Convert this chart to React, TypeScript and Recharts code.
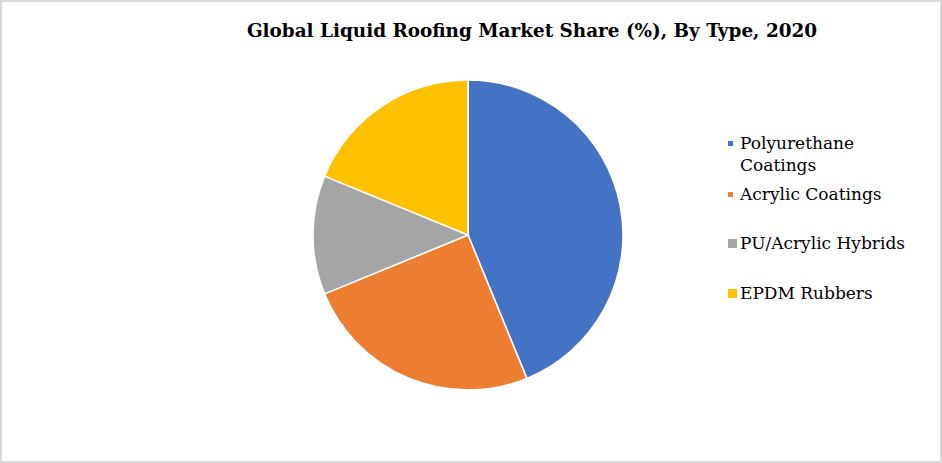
import { PieChart, Pie, Cell, Legend } from "recharts";

const TYPES = ["Polyurethane Coatings", "Acrylic Coatings", "PU/Acrylic Hybrids", "EPDM Rubbers"];
const SHARES = [43.8, 25.0, 12.4, 18.8];
const COLORS = ["#4472c4", "#ed7d31", "#a5a5a5", "#ffc000"];
const TITLE = "Global Liquid Roofing Market Share (%), By Type, 2020";

const data = TYPES.map((name, i) => ({ name, value: SHARES[i] }));

// legend spacing copied from the reference layout
const ITEM_HEIGHTS = [51, 49, 50, 30];
const SWATCH = [5, 5, 9, 9];

function LegendBox() {
  return (
    <div style={{ fontFamily: "'DejaVu Serif', serif", fontSize: 17, color: "#000" }}>
      {TYPES.map((t, i) => (
        <div key={t} style={{ display: "flex", alignItems: "flex-start", height: ITEM_HEIGHTS[i] }}>
          <div style={{ width: 12, height: 22, display: "flex", alignItems: "center" }}>
            <span style={{ display: "inline-block", width: SWATCH[i], height: SWATCH[i], background: COLORS[i] }} />
          </div>
          <div style={{ width: 175, lineHeight: "22px" }}>{t}</div>
        </div>
      ))}
    </div>
  );
}

export default function App() {
  return (
    <div style={{ position: "absolute", left: 0, top: 0, width: 942, height: 463, background: "#fff" }}>
      <div
        style={{
          position: "absolute", inset: 0, boxSizing: "border-box",
          border: "2px solid #d9d9d9", pointerEvents: "none", zIndex: 2,
        }}
      />
      <div
        style={{
          position: "absolute", left: 122, width: 820, top: 18, textAlign: "center",
          fontFamily: "'DejaVu Serif', serif", fontWeight: "bold", fontSize: 18.4, lineHeight: "26px",
        }}
      >
        {TITLE}
      </div>
      <PieChart width={942} height={463} margin={{ top: 0, right: 0, bottom: 0, left: 0 }}>
        <Pie
          data={data}
          dataKey="value"
          nameKey="name"
          cx={468}
          cy={235}
          outerRadius={155}
          startAngle={90}
          endAngle={-270}
          stroke="#fff"
          strokeWidth={1.5}
          isAnimationActive={false}
        >
          {data.map((_, i) => <Cell key={i} fill={COLORS[i]} />)}
        </Pie>
        <Legend
          content={<LegendBox />}
          wrapperStyle={{ position: "absolute", left: 728, top: 132, width: 200 }}
        />
      </PieChart>
    </div>
  );
}
